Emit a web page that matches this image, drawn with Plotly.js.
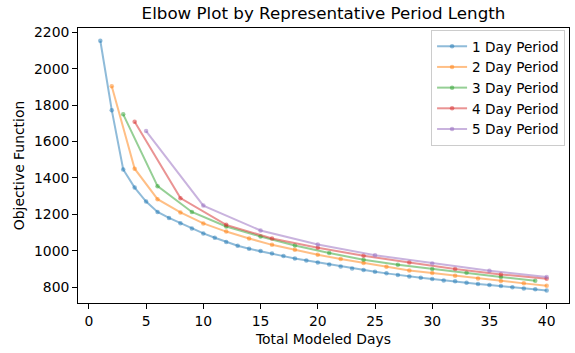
<!DOCTYPE html>
<html>
<head>
<meta charset="utf-8">
<script src="https://cdn.plot.ly/plotly-3.0.1.min.js"></script>
<style>html,body{margin:0;padding:0;background:#fff;}#chart{width:575px;height:353px;}</style>
</head>
<body>
<div id="chart"></div>
<script>
const days1 = [1,2,3,4,5,6,7,8,9,10,11,12,13,14,15,16,17,18,19,20,21,22,23,24,25,26,27,28,29,30,31,32,33,34,35,36,37,38,39,40];
const obj1 = [2155,1773,1447,1347,1270,1213,1180,1151,1122,1095,1071,1047,1027,1010,998,984,970,957,946,935,924,913,902,893,884,875,866,858,851,844,836,831,824,816,811,805,798,792,787,781];
const days2 = [2,4,6,8,10,12,14,16,18,20,22,24,26,28,30,32,34,36,38,40];
const obj2 = [1905,1451,1283,1210,1150,1105,1067,1032,1005,977,954,932,911,891,877,862,847,833,820,807];
const days3 = [3,6,9,12,15,18,21,24,27,30,33,36,39];
const obj3 = [1750,1355,1213,1133,1078,1028,987,950,922,899,879,855,835];
const days4 = [4,8,12,16,20,24,28,32,36,40];
const obj4 = [1709,1289,1142,1067,1016,972,935,899,869,846];
const days5 = [5,10,15,20,25,30,35,40];
const obj5 = [1658,1248,1111,1034,975,930,889,855];
const seriesNames = ["1 Day Period","2 Day Period","3 Day Period","4 Day Period","5 Day Period"];
const colors = ["31,119,180","255,127,14","44,160,44","214,39,40","148,103,189"];
const xTicks = [0,5,10,15,20,25,30,35,40];
const yTicks = [800,1000,1200,1400,1600,1800,2000,2200];

const xs = [days1,days2,days3,days4,days5];
const ys = [obj1,obj2,obj3,obj4,obj5];
const font = "DejaVu Sans, sans-serif";
const traces = xs.map((x,i)=>({
  x: x, y: ys[i], name: seriesNames[i], type: "scatter", mode: "lines+markers",
  line: {color: "rgba("+colors[i]+",0.5)", width: 2},
  marker: {color: "rgba("+colors[i]+",0.5)", size: 4.5}
}));
const layout = {
  width: 575, height: 353,
  margin: {l: 78, r: 6, t: 28, b: 50},
  paper_bgcolor: "#fff", plot_bgcolor: "#fff",
  font: {family: font, size: 13.9, color: "#000"},
  title: {text: "Elbow Plot by Representative Period Length", font: {family: font, size: 16.7, color: "#000"}, x: 0.5, xref: "paper", y: 0.962, yanchor: "middle"},
  xaxis: {
    range: [-0.95, 41.95], tickvals: xTicks, ticktext: xTicks.map(String),
    showgrid: false, zeroline: false, showline: true, linecolor: "#000", linewidth: 1, mirror: true,
    ticks: "outside", ticklen: 4.9, tickwidth: 1, tickcolor: "#000",
    tickfont: {family: font, size: 13.9, color: "#000"},
    title: {text: "Total Modeled Days", font: {family: font, size: 13.9, color: "#000"}, standoff: 6}
  },
  yaxis: {
    range: [712, 2225], tickvals: yTicks, ticktext: yTicks.map(String),
    showgrid: false, zeroline: false, showline: true, linecolor: "#000", linewidth: 1, mirror: true,
    ticks: "outside", ticklen: 4.9, tickwidth: 1, tickcolor: "#000",
    tickfont: {family: font, size: 13.9, color: "#000"},
    title: {text: "Objective Function", font: {family: font, size: 13.9, color: "#000"}, standoff: 6}
  },
  showlegend: true,
  legend: {
    x: 0.992, y: 0.993, xanchor: "right", yanchor: "top",
    bgcolor: "rgba(255,255,255,0.8)", bordercolor: "#cccccc", borderwidth: 1,
    font: {family: font, size: 13.6, color: "#000"},
    tracegroupgap: 0, itemwidth: 30
  }
};
Plotly.newPlot("chart", traces, layout, {staticPlot: true, displayModeBar: false});
</script>
</body>
</html>
